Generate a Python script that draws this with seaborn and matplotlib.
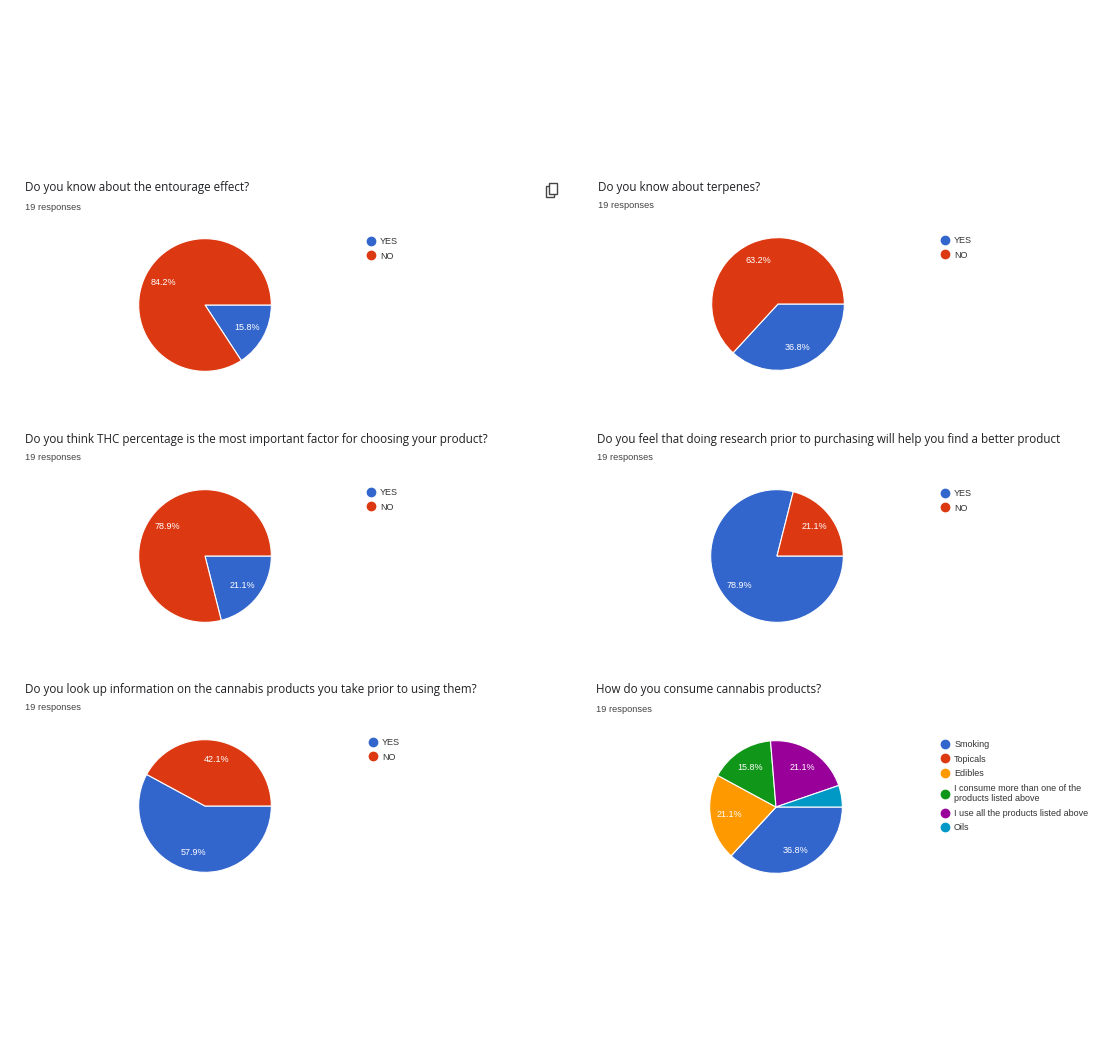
import matplotlib
matplotlib.use("Agg")
import matplotlib.pyplot as plt
from matplotlib.lines import Line2D
from matplotlib.patches import Rectangle
import seaborn as sns

# survey data (19 responses each)
q1_title = "Do you know about the entourage effect?"
q1_labels = ["YES", "NO"]
q1_counts = [3, 16]

q2_title = "Do you know about terpenes?"
q2_labels = ["YES", "NO"]
q2_counts = [7, 12]

q3_title = "Do you think THC percentage is the most important factor for choosing your product?"
q3_labels = ["YES", "NO"]
q3_counts = [4, 15]

q4_title = "Do you feel that doing research prior to purchasing will help you find a better product"
q4_labels = ["YES", "NO"]
q4_counts = [15, 4]

q5_title = "Do you look up information on the cannabis products you take prior to using them?"
q5_labels = ["YES", "NO"]
q5_counts = [11, 8]

q6_title = "How do you consume cannabis products?"
q6_labels = ["Smoking", "Topicals", "Edibles",
             "I consume more than one of the\nproducts listed above",
             "I use all the products listed above", "Oils"]
q6_counts = [7, 0, 4, 3, 4, 1]

responses = "19 responses"

google = ["#3366CC", "#DC3912", "#FF9900", "#109618", "#990099", "#0099C6"]

sns.set_theme(style="white")
plt.rcParams['font.family'] = ['Liberation Sans', 'DejaVu Sans']

W, H = 1111, 1061
fig = plt.figure(figsize=(W / 100, H / 100), dpi=100)
fig.patch.set_facecolor("white")


def fx(px):
    return px / W


def fy(py):
    return 1 - py / H


def pct_label(p):
    return "%.1f%%" % p if p >= 8 else ""


panels = [
    (q1_title, q1_labels, q1_counts, 25, 186, 205, 305, 373, 242),
    (q2_title, q2_labels, q2_counts, 598, 185, 778, 304, 947, 241),
    (q3_title, q3_labels, q3_counts, 25, 437, 205, 556, 373, 493),
    (q4_title, q4_labels, q4_counts, 597, 437, 777, 556, 947, 494),
    (q5_title, q5_labels, q5_counts, 25, 687, 205, 806, 375, 743),
    (q6_title, q6_labels, q6_counts, 596, 688, 776, 807, 947, 745),
]

R = 67
for title, labels, counts, tx, ty, cx, cy, lx, ly in panels:
    fig.text(fx(tx), fy(ty + 2), title, fontsize=8.4, color="#202124",
             family=["Open Sans", "DejaVu Sans"], ha="left", va="center")
    fig.text(fx(tx), fy(ty + 21), responses, fontsize=6.7, color="#444444",
             ha="left", va="center")

    ax = fig.add_axes([fx(cx - R), fy(cy + R), 2 * R / W, 2 * R / H])
    colors = google[:len(counts)]
    wedges, texts, autotexts = ax.pie(
        counts, colors=colors, startangle=0, counterclock=False,
        autopct=pct_label, pctdistance=0.72,
        wedgeprops=dict(edgecolor="white", linewidth=0.8),
        textprops=dict(color="white", fontsize=6.5))
    ax.set_xlim(-1.01, 1.01)
    ax.set_ylim(-1.01, 1.01)
    ax.set_aspect("equal")
    ax.axis("off")

    handles = [Line2D([0], [0], marker="o", linestyle="none", markersize=6.0,
                      markerfacecolor=c, markeredgecolor=c) for c in colors]
    fig.legend(handles, labels, loc="upper left",
               bbox_to_anchor=(fx(lx - 6), fy(ly - 5)),
               frameon=False, fontsize=6.5, handlelength=0.95,
               handletextpad=0.5, labelspacing=0.62, borderpad=0,
               borderaxespad=0, labelcolor="#333333")

# copy icon next to the first question
fig.patches.append(Rectangle((fx(546), fy(197)), 8 / W, 11 / H,
                             transform=fig.transFigure, fill=False,
                             edgecolor="#444444", linewidth=1.0))
fig.patches.append(Rectangle((fx(549), fy(194)), 8 / W, 11 / H,
                             transform=fig.transFigure, facecolor="white",
                             edgecolor="#444444", linewidth=1.0))

fig.savefig("out.png", dpi=100, facecolor="white")
